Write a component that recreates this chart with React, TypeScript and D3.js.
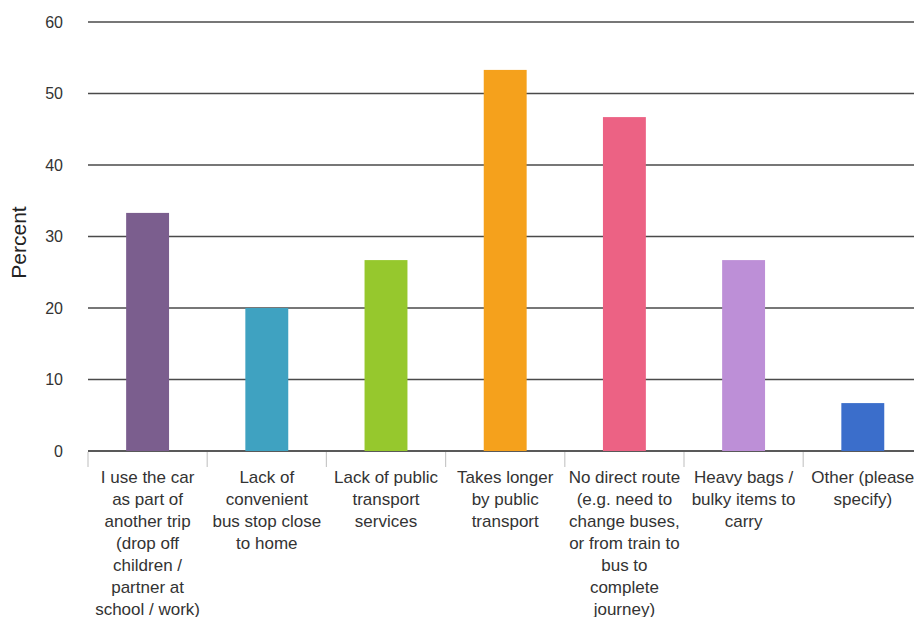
import React from "react";
import * as d3 from "d3";

// Reasons for using the car instead of public transport (% of respondents)
const categories: string[][] = [
  ["I use the car", "as part of", "another trip", "(drop off", "children /", "partner at", "school / work)"],
  ["Lack of", "convenient", "bus stop close", "to home"],
  ["Lack of public", "transport", "services"],
  ["Takes longer", "by public", "transport"],
  ["No direct route", "(e.g. need to", "change buses,", "or from train to", "bus to", "complete", "journey)"],
  ["Heavy bags /", "bulky items to", "carry"],
  ["Other (please", "specify)"],
];
const percents: number[] = [33.3, 20.0, 26.7, 53.3, 46.7, 26.7, 6.7];
const barColors: string[] = ["#7b5e8e", "#3fa2c1", "#96c82d", "#f5a11c", "#ec6284", "#bd8fd7", "#3b6ecb"];
const yTicks: number[] = [0, 10, 20, 30, 40, 50, 60];

const W = 914;
const H = 617;
const left = 88;
const step = 119.2;
const top = 22;
const bottom = 451;

export default function App() {
  const keys = categories.map((_, i) => String(i));
  const x = d3
    .scaleBand<string>()
    .domain(keys)
    .range([left, left + step * keys.length])
    .paddingInner(0.64)
    .paddingOuter(0.32);
  const xOuter = d3.scaleBand<string>().domain(keys).range([left, left + step * keys.length]).padding(0);
  const y = d3.scaleLinear().domain([0, 60]).range([bottom, top]);
  const font = "'Liberation Sans', Arial, sans-serif";

  return (
    <svg
      width={W}
      height={H}
      style={{ position: "absolute", left: 0, top: 0, background: "#fff" }}
      fontFamily={font}
    >
      {/* horizontal gridlines */}
      {yTicks.map((t) => (
        <line
          key={"g" + t}
          x1={left}
          x2={W}
          y1={y(t)}
          y2={y(t)}
          stroke={t === 0 ? "#222" : "#4a4a4a"}
          strokeWidth={t === 0 ? 1.6 : 1.3}
        />
      ))}
      {/* y tick labels */}
      {yTicks.map((t) => (
        <text
          key={"t" + t}
          x={63}
          y={y(t)}
          dy="0.36em"
          textAnchor="end"
          fontSize={16}
          fill="#333"
        >
          {t}
        </text>
      ))}
      <text
        transform={`translate(26,${(top + bottom) / 2 + 6}) rotate(-90)`}
        textAnchor="middle"
        fontSize={21}
        fill="#222"
      >
        Percent
      </text>
      {/* bars */}
      {percents.map((v, i) => (
        <rect
          key={"b" + i}
          x={x(keys[i])}
          y={y(v)}
          width={x.bandwidth()}
          height={y(0) - y(v)}
          fill={barColors[i]}
        />
      ))}
      {/* category separators */}
      {keys.map((k) => (
        <line
          key={"s" + k}
          x1={xOuter(k)}
          x2={xOuter(k)}
          y1={bottom + 1}
          y2={bottom + 16}
          stroke="#c8c8c8"
          strokeWidth={1.2}
        />
      ))}
      {/* category labels */}
      {categories.map((lines, i) => (
        <text
          key={"c" + i}
          x={(xOuter(keys[i]) as number) + xOuter.bandwidth() / 2}
          y={483}
          textAnchor="middle"
          fontSize={17}
          fill="#333"
        >
          {lines.map((ln, j) => (
            <tspan key={j} x={(xOuter(keys[i]) as number) + xOuter.bandwidth() / 2} dy={j === 0 ? 0 : 22}>
              {ln}
            </tspan>
          ))}
        </text>
      ))}
    </svg>
  );
}
